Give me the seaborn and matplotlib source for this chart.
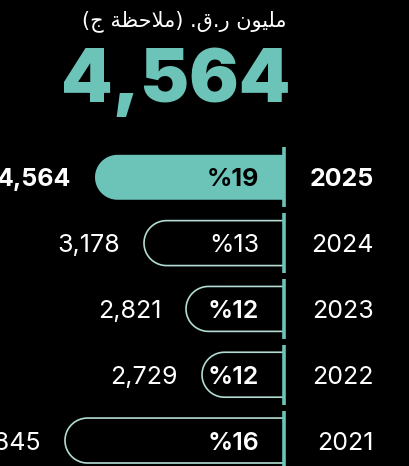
import numpy as np
import pandas as pd
import matplotlib
matplotlib.use("Agg")
import matplotlib.pyplot as plt
from matplotlib.path import Path
from matplotlib.patches import PathPatch
import seaborn as sns

# ---------------- data ----------------
years = ["2025", "2024", "2023", "2022", "2021"]
values = ["4,564", "3,178", "2,821", "2,729", "3,845"]
growth = ["%19", "%13", "%12", "%12", "%16"]
bar_len = [189, 140, 98, 82, 219]          # relative bar lengths as drawn
headline = "4,564"
title_text = "مليون ر.ق. (ملاحظة ج)"

TEAL = "#6CC4B8"
OUTLINE = "#B2DCD3"
BG = "#000000"

# ---------------- minimal Arabic shaping (visual order) ----------------
FORMS = {  # iso, fin, ini, med
    "م": (0xFEE1, 0xFEE2, 0xFEE3, 0xFEE4),
    "ل": (0xFEDD, 0xFEDE, 0xFEDF, 0xFEE0),
    "ي": (0xFEF1, 0xFEF2, 0xFEF3, 0xFEF4),
    "ن": (0xFEE5, 0xFEE6, 0xFEE7, 0xFEE8),
    "ق": (0xFED5, 0xFED6, 0xFED7, 0xFED8),
    "ح": (0xFEA1, 0xFEA2, 0xFEA3, 0xFEA4),
    "ظ": (0xFEC5, 0xFEC6, 0xFEC7, 0xFEC8),
    "ج": (0xFE9D, 0xFE9E, 0xFE9F, 0xFEA0),
    "و": (0xFEED, 0xFEEE),
    "ر": (0xFEAD, 0xFEAE),
    "ا": (0xFE8D, 0xFE8E),
    "ة": (0xFE93, 0xFE94),
}


def shape_arabic(s):
    out = []
    i = 0
    n = len(s)

    def dual(c):
        return c in FORMS and len(FORMS[c]) == 4

    while i < n:
        c = s[i]
        if c not in FORMS:
            out.append(c)
            i += 1
            continue
        prev = s[i - 1] if i > 0 else ""
        joins_prev = dual(prev)
        if c == "ل" and i + 1 < n and s[i + 1] == "ا":
            out.append(chr(0xFEFC if joins_prev else 0xFEFB))
            i += 2
            continue
        nxt = s[i + 1] if i + 1 < n else ""
        joins_next = dual(c) and nxt in FORMS
        f = FORMS[c]
        if joins_prev and joins_next:
            out.append(chr(f[3]))
        elif joins_prev:
            out.append(chr(f[1]))
        elif joins_next:
            out.append(chr(f[2]))
        else:
            out.append(chr(f[0]))
        i += 1
    vis = "".join(out)[::-1]
    return vis.translate(str.maketrans("()", ")("))


# ---------------- figure ----------------
sns.set_theme(style="white")
plt.rcParams["font.family"] = ["Inter", "DejaVu Sans"]

fig = plt.figure(figsize=(4.10, 4.66), dpi=100, facecolor=BG)
ax = fig.add_axes([0, 0, 1, 1])
ax.set_facecolor(BG)

df = pd.DataFrame({"year": years, "len": [-v for v in bar_len]})
sns.barplot(data=df, x="len", y="year", orient="h", order=years,
            width=0.683, color=TEAL, ax=ax)

ax.set_xlim(-284, 126)
ax.set_ylim(4.387, -2.694)
ax.axis("off")

# replace rectangles with left-rounded bars
for i, p in enumerate(list(ax.patches)):
    x0, w = p.get_x(), p.get_width()
    y0, h = p.get_y(), p.get_height()
    left, right = min(x0, x0 + w), max(x0, x0 + w)
    ymid = y0 + h / 2
    ry = h / 2
    rx = 22.5  # x data unit == 1 px, so this gives a circular cap
    t = np.linspace(np.pi / 2, 3 * np.pi / 2, 40)
    arc_x = left + rx + rx * np.cos(t)
    arc_y = ymid - ry * np.sin(t)
    xs = np.concatenate([[right], arc_x, [right]])
    ys = np.concatenate([[ymid - ry], arc_y, [ymid + ry]])
    verts = np.column_stack([xs, ys])
    p.set_visible(False)
    if i == 0:
        patch = PathPatch(Path(verts), facecolor=TEAL, edgecolor="none", zorder=2)
    else:
        patch = PathPatch(Path(verts), facecolor="none", edgecolor=OUTLINE,
                          linewidth=1.2, zorder=2)
    ax.add_patch(patch)

    # value label
    ax.text(left - 24, i, values[i], ha="right", va="center_baseline",
            fontsize=18, color="white",
            fontweight="bold" if i == 0 else "normal", zorder=3)
    # growth label
    ax.text(-25, i, growth[i], ha="right", va="center_baseline",
            fontsize=18, color=BG if i == 0 else "white",
            fontweight="bold" if i == 0 else ("normal" if i == 1 else "semibold"),
            zorder=3)
    # year label
    ax.text(90, i, years[i], ha="right", va="center_baseline",
            fontsize=18, color="white",
            fontweight="bold" if i == 0 else "normal", zorder=3)
    # vertical divider segment
    ax.vlines(0, i - 0.455, i + 0.455, color=TEAL, linewidth=2.6, zorder=3)

# header texts
ax.text(184 - 284, -2.694 + 21 / 65.9, shape_arabic(title_text),
        ha="center", va="center", fontsize=15, color="white",
        family="DejaVu Sans")
ax.text(176 - 284, -2.694 + 102 / 65.9, headline, ha="center", va="baseline",
        fontsize=53, color=TEAL, fontweight="black")

fig.savefig("out.png", dpi=100, facecolor=BG)
